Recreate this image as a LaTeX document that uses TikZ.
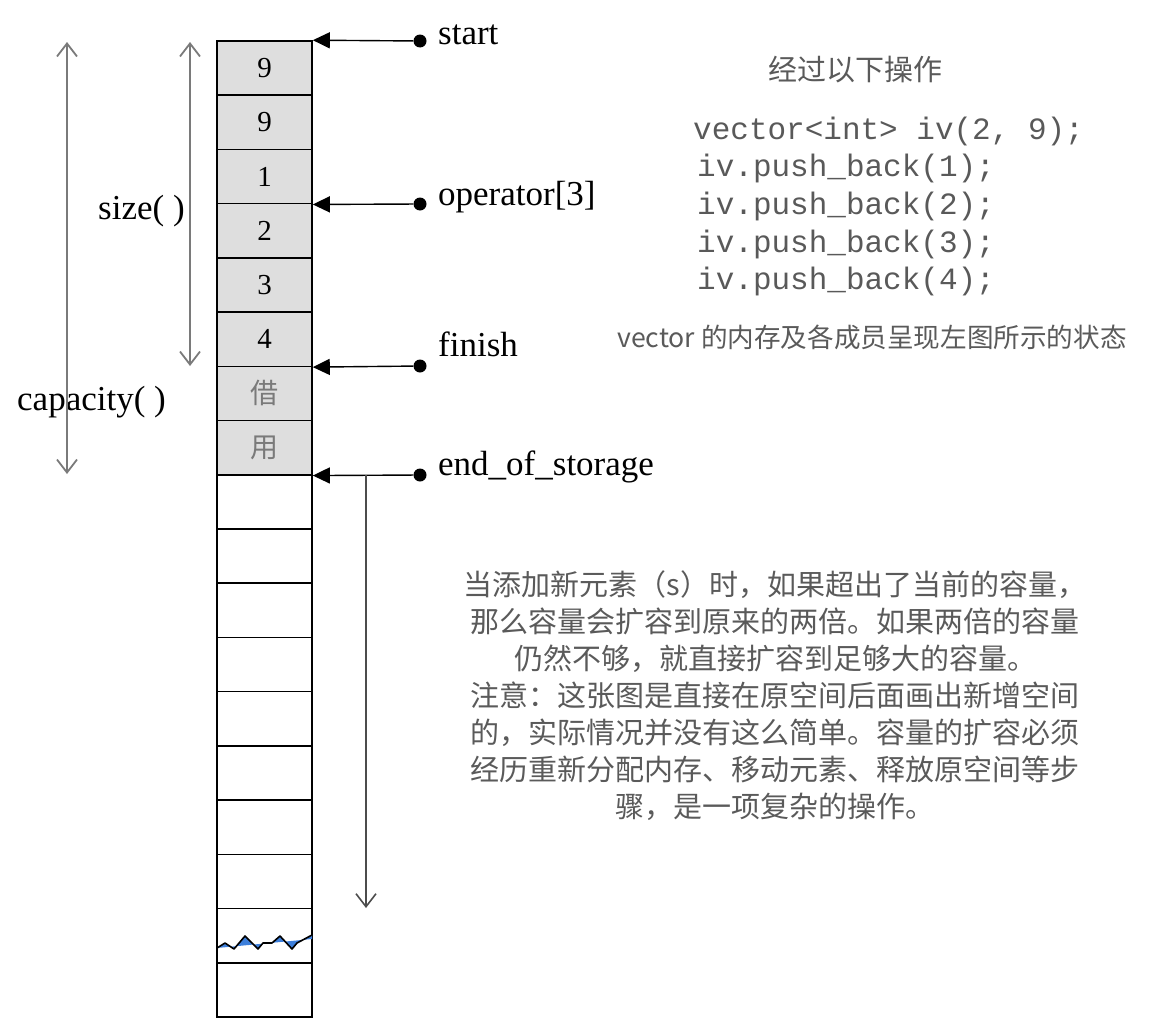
\documentclass[tikz,border=0pt]{standalone}
\usepackage{fontspec}
\setmainfont{Liberation Serif}
\newfontfamily\cjkfont{Noto Sans CJK SC}
\newfontfamily\codefont{Liberation Mono}
\usetikzlibrary{arrows.meta,calc,positioning}

\definecolor{cellgray}{HTML}{DEDEDE}
\definecolor{notegray}{HTML}{5A5A5A}
\definecolor{dimgray}{HTML}{7A7A7A}
\definecolor{wavefill}{HTML}{3D7FDB}

\tikzset{
  barb/.tip={Straight Barb[length=13pt,width=20pt]},
  cell/.style={draw, line width=1.6pt, minimum width=95pt, minimum height=54.22pt,
    inner sep=0pt, font=\fontsize{29}{32}\selectfont},
  used/.style={cell, fill=cellgray},
  spare/.style={used, text=dimgray, font=\cjkfont\fontsize{28}{32}\selectfont},
  ptr/.style={line width=1.4pt, -{Triangle[length=17pt,width=16pt]}},
  dot/.style={circle, fill, inner sep=0pt, minimum size=13pt},
  extent/.style={dimgray, line width=1.8pt, barb-barb},
  growline/.style={black!70, line width=1.6pt, -barb},
  lbl/.style={font=\fontsize{35}{40}\selectfont, inner sep=0pt, anchor=base west},
  note/.style={text=notegray, inner sep=0pt, font=\cjkfont\fontsize{29}{37}\selectfont},
  code/.style={text=black!65, inner sep=0pt, anchor=base west,
    font=\codefont\fontsize{31}{36}\selectfont},
}

\begin{document}
\begin{tikzpicture}[x=1pt, y=-1pt]
\useasboundingbox (0,0) rectangle (1152,1036);

% the storage cells
\foreach \v [count=\i] in {9,9,1,2,3,4}
  \node[used] (c\i) at (264.5, {41+54.22*(\i-0.5)}) {\v};
\node[spare] (c7) at (264.5, {41+54.22*6.5}) {借};
\node[spare] (c8) at (264.5, {41+54.22*7.5}) {用};
\foreach \i in {9,...,18}
  \node[cell] (c\i) at (264.5, {41+54.22*(\i-0.5)}) {};

% break mark in cell 17
\fill[wavefill] (217,948) -- (225,943) -- (234,949) -- (245,936) -- (258,949)
  -- (263,943) -- (272,943) -- (280,936) -- (292,949) -- (297,943) -- (312,935)
  -- (312,939) -- cycle;
\draw[line width=1.6pt, line join=round] (217,948) -- (225,943) -- (234,949)
  -- (245,936) -- (258,949) -- (263,943) -- (272,943) -- (280,936) -- (292,949)
  -- (297,943) -- (312,935);

% iterators
\node[dot] (pstart) at (420,41) {};
\node[dot] (pop) at (420,204) {};
\node[dot] (pfinish) at (420,366) {};
\node[dot] (peos) at (420,475) {};

\draw[ptr] (pstart) -- (c1.north east);
\draw[ptr] (pop) -- (c3.south east);
\draw[ptr] (pfinish) -- (c6.south east);
\draw[ptr] (peos) -- (c8.south east);

\node[lbl] (lstart) at (438,44) {start};
\node[lbl] (lop) at (438,205) {operator[3]};
\node[lbl] (lfinish) at (438,356) {finish};
\node[lbl] (leos) at (438,475) {end\_of\_storage};

% growth of the storage
\coordinate (split) at (366,475);
\coordinate (growend) at (366,908);
\draw[growline] (split) -- (growend);

% size and capacity
\node[lbl] (lsize) at (98,219) {size( )};
\node[lbl] (lcap) at (17,410) {capacity( )};

\coordinate (captop) at (67,42);
\coordinate (capbot) at (67,474);
\draw[extent] (captop) -- (capbot);

\coordinate (sizetop) at (190,42);
\coordinate (sizebot) at (190,366);
\draw[extent] (sizetop) -- (sizebot);

% notes on the right
\node[note, anchor=base] (title) at (855,80) {经过以下操作};

\node[code] (decl) at (693,139) {vector<int> iv(2, 9);};
\foreach \k in {1,...,4}
  \node[code] (push\k) at (697, {139+37.7*\k}) {iv.push\_back(\k);};

\node[note, anchor=base, font=\cjkfont\fontsize{26.6}{30}\selectfont] (state) at (872,347)
  {vector 的内存及各成员呈现左图所示的状态};

\node[note, align=center, anchor=north] (para) at (775,570)
  {当添加新元素（s）时，如果超出了当前的容量，\\
   那么容量会扩容到原来的两倍。如果两倍的容量\\
   仍然不够，就直接扩容到足够大的容量。\\
   注意：这张图是直接在原空间后面画出新增空间\\
   的，实际情况并没有这么简单。容量的扩容必须\\
   经历重新分配内存、移动元素、释放原空间等步\\
   骤，是一项复杂的操作。};
\end{tikzpicture}
\end{document}
